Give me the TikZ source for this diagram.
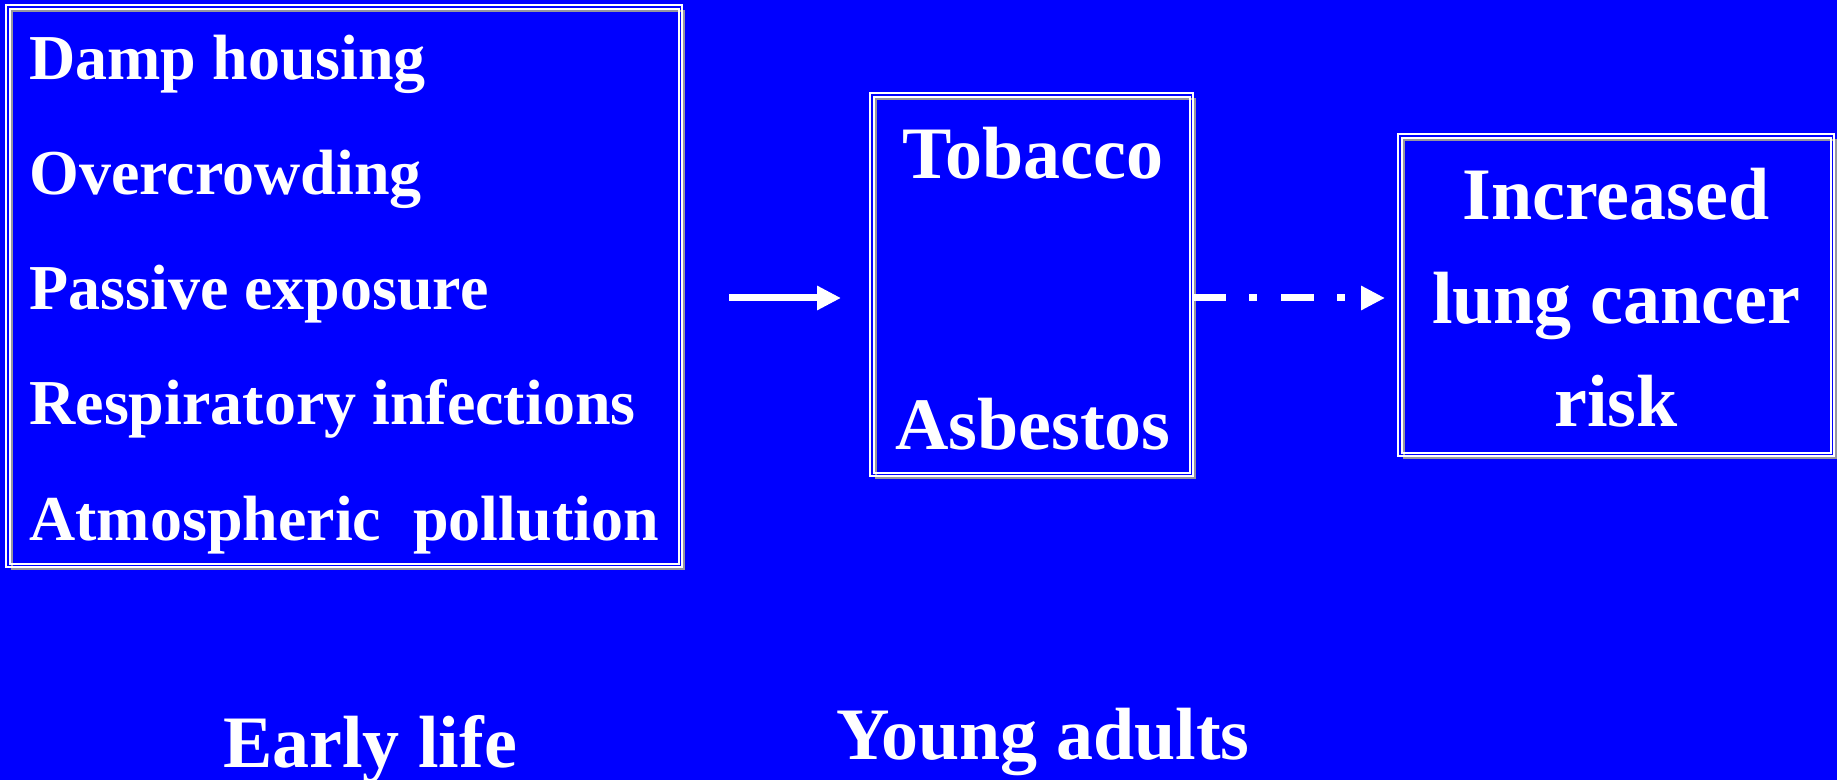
\documentclass[tikz,border=0pt]{standalone}
\usepackage{fontspec}
\setmainfont{Liberation Serif}
\usetikzlibrary{arrows.meta}
\definecolor{bg}{RGB}{0,0,255}
\definecolor{framegray}{RGB}{150,150,160}
\begin{document}
\begin{tikzpicture}[x=0.5pt,y=-0.5pt,
  box/.style={draw=none, minimum width=#1, inner sep=0pt, outer sep=0pt},
  small/.style={text=white, font=\bfseries\fontsize{32pt}{38pt}\selectfont, inner sep=0pt},
  big/.style={text=white, font=\bfseries\fontsize{37pt}{44pt}\selectfont, inner sep=0pt},
  conn/.style={white, line width=3.5pt},
  tip/.style={-{Triangle[length=12pt,width=11.5pt]}}
]
\fill[bg] (0,0) rectangle (1837,780);
\useasboundingbox (0,0) rectangle (1837,780);

% boxes
\node[box=676pt/2, minimum height=562pt/2] (early) at (344,286) {};
\node[box=323pt/2, minimum height=383pt/2] (young) at (1031.5,284.5) {};
\node[box=436pt/2, minimum height=322pt/2] (risk) at (1616,295) {};

\foreach \n in {early,young,risk}{
  \draw[draw=framegray, line width=1pt] ([shift={(6,6)}]\n.north west) rectangle ([shift={(2,2)}]\n.south east);
  \draw[draw=white, line width=1pt] (\n.north west) rectangle (\n.south east);
  \draw[draw=white, line width=1pt] ([shift={(4,4)}]\n.north west) rectangle ([shift={(-3,-3)}]\n.south east);
}

% left texts
\node[small, anchor=base west] (e1) at (29,80) {Damp housing};
\node[small, anchor=base west] (e2) at (29,195) {Overcrowding};
\node[small, anchor=base west] (e3) at (29,310) {Passive exposure};
\node[small, anchor=base west] (e4) at (29,425) {Respiratory infections};
\node[small, anchor=base west] (e5) at (29,540) {Atmospheric\ \ pollution};

% middle texts
\node[big, anchor=base] (y1) at (1033,179) {Tobacco};
\node[big, anchor=base] (y2) at (1033,450) {Asbestos};

% right texts
\node[big, anchor=base] (r1) at (1616,220) {Increased};
\node[big, anchor=base] (r2) at (1616,324) {lung cancer};
\node[big, anchor=base] (r3) at (1616,427) {risk};

% bottom labels
\node[big, anchor=base] (l1) at (370,767) {Early life};
\node[big, anchor=base] (l2) at (1043,759) {Young adults};

% connectors
\coordinate (a1s) at (729,298);
\coordinate (a1e) at (841,298);
\draw[conn, tip] (a1s) -- (a1e);
\coordinate (a2s) at (young.east |- 0,298);
\coordinate (a2e) at (1385,298);
\draw[conn, tip, dash pattern=on 16.5pt off 11.5pt on 4pt off 12pt] (a2s) -- (a2e);
\end{tikzpicture}
\end{document}
